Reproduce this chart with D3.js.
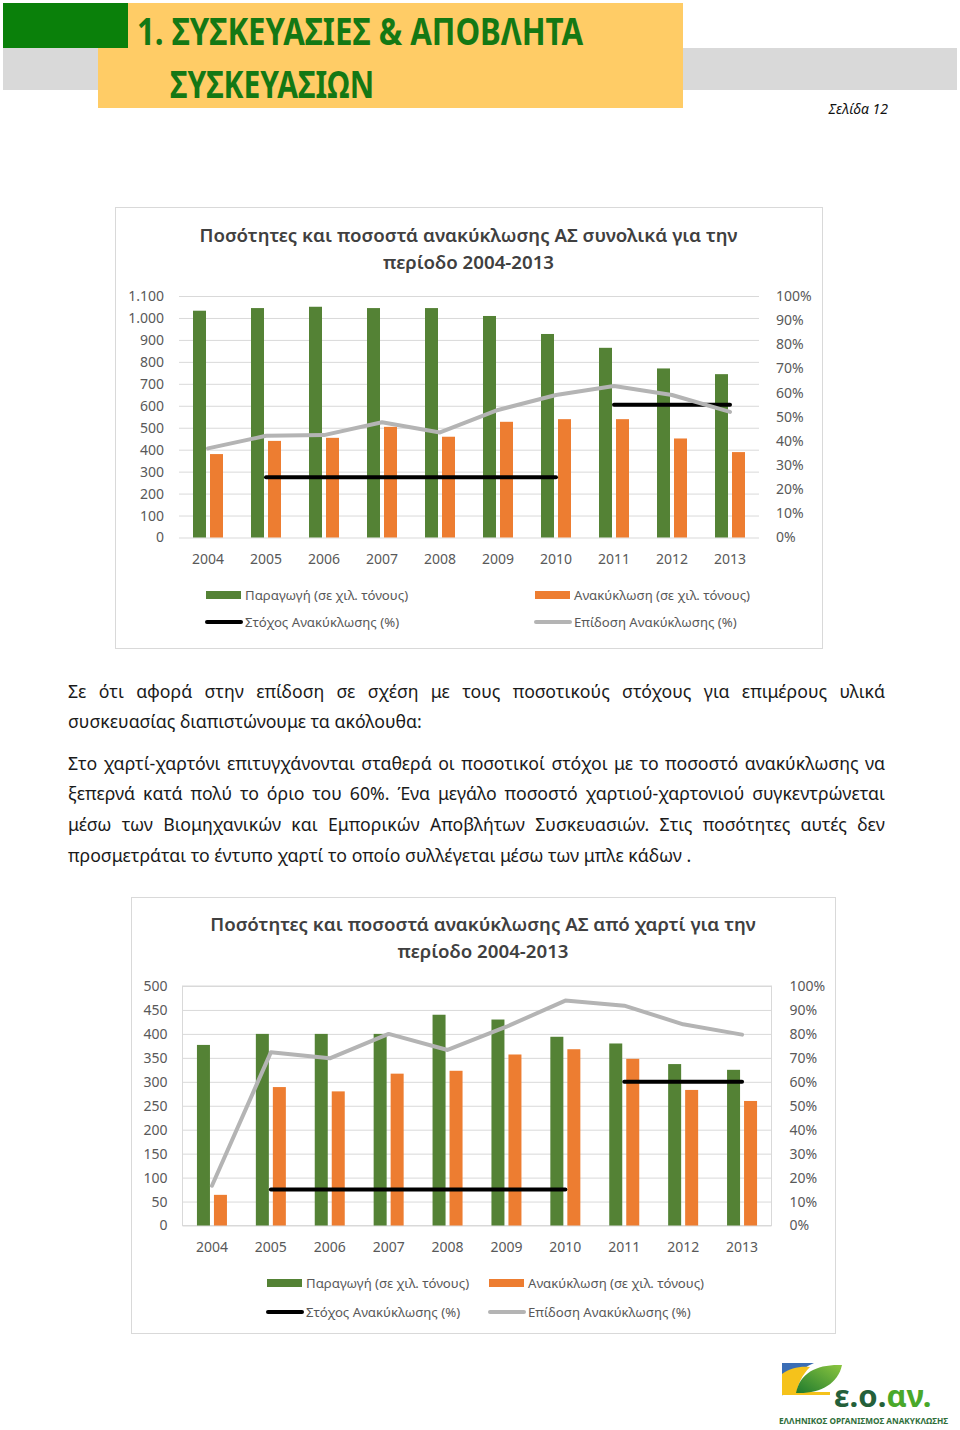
<!DOCTYPE html>
<html lang="el">
<head>
<meta charset="UTF-8">
<title>Συσκευασίες & Απόβλητα Συσκευασιών</title>
<script src="https://cdn.jsdelivr.net/npm/d3@7"></script>
<style>
  body { margin: 0; background: #fff; }
  #page { position: relative; width: 960px; height: 1430px; overflow: hidden; }
  #page svg { position: absolute; left: 0; top: 0; }
  .line { position: absolute; left: 68px; width: 817px; font-family: "Noto Sans", sans-serif;
          font-size: 17.7px; line-height: 22px; color: #1a1a1a; }
  .justify { text-align: justify; text-align-last: justify; }
</style>
</head>
<body>
<div id="page"></div>
<script>
// ---- data ----
var years = ["2004", "2005", "2006", "2007", "2008", "2009", "2010", "2011", "2012", "2013"];

// total packaging (thousand tonnes / %)
var totalProduction = [1033, 1045, 1051, 1045, 1045, 1009, 927, 864, 770, 744];
var totalRecycling = [380, 440, 454, 504, 459, 527, 539, 539, 451, 389];
var totalPerformance = [36.9, 42.1, 42.4, 47.7, 43.5, 52.8, 59.0, 62.7, 59.0, 52.0];
var totalTarget = [null, 25, 25, 25, 25, 25, 25, 55, 55, 55];
var totalTicks = [0, 100, 200, 300, 400, 500, 600, 700, 800, 900, 1000, 1100];

// paper packaging
var paperProduction = [377, 400, 400, 400, 440, 430, 394, 380, 337, 325];
var paperRecycling = [64, 289, 280, 317, 323, 357, 368, 348, 283, 260];
var paperPerformance = [16.6, 72.3, 69.8, 80.0, 73.3, 83.0, 93.9, 91.8, 84.0, 79.7];
var paperTarget = [null, 15, 15, 15, 15, 15, 15, 60, 60, 60];
var paperTicks = [0, 50, 100, 150, 200, 250, 300, 350, 400, 450, 500];

var pctTicks = [0, 10, 20, 30, 40, 50, 60, 70, 80, 90, 100];
var legendLabels = ["Παραγωγή (σε χιλ. τόνους)", "Ανακύκλωση (σε χιλ. τόνους)",
                    "Στόχος Ανακύκλωσης (%)", "Επίδοση Ανακύκλωσης (%)"];

var paragraphLines = [
  ["Σε ότι αφορά στην επίδοση σε σχέση με τους ποσοτικούς στόχους για επιμέρους υλικά", 680, true],
  ["συσκευασίας διαπιστώνουμε τα ακόλουθα:", 710, false],
  ["Στο χαρτί-χαρτόνι επιτυγχάνονται σταθερά οι ποσοτικοί στόχοι με το ποσοστό ανακύκλωσης να", 752, true],
  ["ξεπερνά κατά πολύ το όριο του 60%. Ένα μεγάλο ποσοστό χαρτιού-χαρτονιού συγκεντρώνεται", 782, true],
  ["μέσω των Βιομηχανικών και Εμπορικών Αποβλήτων Συσκευασιών. Στις ποσότητες αυτές δεν", 813, true],
  ["προσμετράται το έντυπο χαρτί το οποίο συλλέγεται μέσω των μπλε κάδων .", 844, false]
];

var GREEN = "#548235", ORANGE = "#ed7d31", GREY = "#b4b4b4", GRID = "#d9d9d9";
var FONT = "'Noto Sans', sans-serif";

var page = d3.select("#page");
var svg = page.append("svg").attr("width", 960).attr("height", 1430);

// ---- page header ----
svg.append("rect").attr("x", 3).attr("y", 48).attr("width", 954).attr("height", 42).attr("fill", "#d9d9d9");
svg.append("rect").attr("x", 98).attr("y", 3).attr("width", 585).attr("height", 105).attr("fill", "#ffcc66");
svg.append("rect").attr("x", 3).attr("y", 3).attr("width", 125).attr("height", 45).attr("fill", "#0a800a");
svg.append("text").attr("x", 137).attr("y", 45)
  .attr("textLength", 446).attr("lengthAdjust", "spacingAndGlyphs")
  .style("font-family", FONT).style("font-weight", "bold").style("font-size", "37px")
  .attr("fill", "#147814").text("1. ΣΥΣΚΕΥΑΣΙΕΣ &  ΑΠΟΒΛΗΤΑ");
svg.append("text").attr("x", 170).attr("y", 98)
  .attr("textLength", 204).attr("lengthAdjust", "spacingAndGlyphs")
  .style("font-family", FONT).style("font-weight", "bold").style("font-size", "37px")
  .attr("fill", "#147814").text("ΣΥΣΚΕΥΑΣΙΩΝ");
svg.append("text").attr("x", 888).attr("y", 114).attr("text-anchor", "end")
  .style("font-family", FONT).style("font-style", "italic").style("font-size", "14px")
  .attr("fill", "#111").text("Σελίδα 12");

// ---- body text ----
paragraphLines.forEach(function (l) {
  page.append("div").attr("class", "line" + (l[2] ? " justify" : ""))
    .style("top", l[1] + "px").text(l[0]);
});

// ---- charts ----
var fmt = d3.formatLocale({ decimal: ",", thousands: ".", grouping: [3], currency: ["", "€"] }).format(",");

function drawChart(o) {
  var g = svg.append("g");
  g.append("rect").attr("x", o.frame[0] + 0.5).attr("y", o.frame[1] + 0.5)
    .attr("width", o.frame[2]).attr("height", o.frame[3])
    .attr("fill", "#fff").attr("stroke", GRID);

  var midX = o.frame[0] + o.frame[2] / 2;
  o.title.forEach(function (t, i) {
    g.append("text").attr("x", midX).attr("y", o.titleY + i * 27).attr("text-anchor", "middle")
      .style("font-family", FONT).style("font-weight", 600).style("font-size", "18.7px")
      .attr("fill", "#404040").text(t);
  });

  var x = d3.scaleBand().domain(years).range([o.left, o.right]);
  var xs = d3.scaleBand().domain(["prod", "rec"]).range([-15, 15]).paddingInner(4 / 17);
  var y = d3.scaleLinear().domain([0, o.yMax]).range([o.bottom, o.top]);
  var y2 = d3.scaleLinear().domain([0, 100]).range([o.bottom, o.top]);
  var cx = function (d) { return x(d) + x.bandwidth() / 2; };

  // left axis + gridlines
  var ax = g.append("g").attr("transform", "translate(" + o.left + ",0)")
    .call(d3.axisLeft(y).tickValues(o.ticks).tickSize(-(o.right - o.left)).tickPadding(o.padL).tickFormat(fmt));
  ax.select(".domain").remove();
  ax.selectAll("line").attr("stroke", GRID);

  if (o.border) {
    g.append("rect").attr("x", o.left).attr("y", o.top)
      .attr("width", o.right - o.left).attr("height", o.bottom - o.top)
      .attr("fill", "none").attr("stroke", GRID);
  }

  var ar = g.append("g").attr("transform", "translate(" + o.right + ",0)")
    .call(d3.axisRight(y2).tickValues(pctTicks).tickSize(0).tickPadding(o.padR).tickFormat(function (d) { return d + "%"; }));
  ar.select(".domain").remove();

  var axb = g.append("g").attr("transform", "translate(0," + o.bottom + ")")
    .call(d3.axisBottom(x).tickSize(0).tickPadding(17));
  axb.select(".domain").remove();

  g.selectAll(".tick text").style("font-family", FONT).style("font-size", "14px").attr("fill", "#595959");

  // bars
  g.selectAll(".bar-prod").data(years).join("rect").attr("class", "bar-prod")
    .attr("x", function (d) { return cx(d) + xs("prod"); }).attr("width", xs.bandwidth())
    .attr("y", function (d, i) { return y(o.prod[i]); })
    .attr("height", function (d, i) { return y(0) - y(o.prod[i]); })
    .attr("fill", GREEN);
  g.selectAll(".bar-rec").data(years).join("rect").attr("class", "bar-rec")
    .attr("x", function (d) { return cx(d) + xs("rec"); }).attr("width", xs.bandwidth())
    .attr("y", function (d, i) { return y(o.rec[i]); })
    .attr("height", function (d, i) { return y(0) - y(o.rec[i]); })
    .attr("fill", ORANGE);

  // target: one segment per run of equal values
  var runs = [], cur = null;
  o.target.forEach(function (v, i) {
    if (v == null) { cur = null; return; }
    if (cur && o.target[i - 1] === v) cur.push(i);
    else { cur = [i]; runs.push(cur); }
  });
  var idxLine = function (arr) {
    return d3.line().x(function (i) { return cx(years[i]); }).y(function (i) { return y2(arr[i]); });
  };
  g.selectAll(".target").data(runs).join("path").attr("class", "target")
    .attr("d", idxLine(o.target)).attr("fill", "none").attr("stroke", "#000")
    .attr("stroke-width", 4).attr("stroke-linecap", "round");

  g.append("path").attr("d", idxLine(o.perf)(d3.range(years.length)))
    .attr("fill", "none").attr("stroke", GREY).attr("stroke-width", 4)
    .attr("stroke-linecap", "round").attr("stroke-linejoin", "round");

  // legend
  var lg = o.legend;
  var items = [
    { c: lg.cols[0], r: lg.rows[0], type: "rect", color: GREEN },
    { c: lg.cols[1], r: lg.rows[0], type: "rect", color: ORANGE },
    { c: lg.cols[0], r: lg.rows[1], type: "line", color: "#000" },
    { c: lg.cols[1], r: lg.rows[1], type: "line", color: GREY }
  ];
  items.forEach(function (it, i) {
    if (it.type === "rect") {
      g.append("rect").attr("x", it.c).attr("y", it.r - 4).attr("width", 35).attr("height", 8).attr("fill", it.color);
    } else {
      g.append("line").attr("x1", it.c + 1).attr("x2", it.c + 35).attr("y1", it.r).attr("y2", it.r)
        .attr("stroke", it.color).attr("stroke-width", 4).attr("stroke-linecap", "round");
    }
    g.append("text").attr("x", it.c + 39).attr("y", it.r).attr("dy", "0.35em")
      .style("font-family", FONT).style("font-size", "13.2px").attr("fill", "#595959")
      .text(legendLabels[i]);
  });
}

drawChart({
  frame: [115, 207, 707, 441],
  title: ["Ποσότητες και ποσοστά ανακύκλωσης ΑΣ συνολικά για την", "περίοδο 2004-2013"],
  titleY: 242,
  left: 179, right: 759, top: 296, bottom: 537.5,
  yMax: 1100, ticks: totalTicks, padL: 15, padR: 17, border: false,
  prod: totalProduction, rec: totalRecycling, perf: totalPerformance, target: totalTarget,
  legend: { cols: [206, 535], rows: [595, 622] }
});

drawChart({
  frame: [131, 897, 704, 436],
  title: ["Ποσότητες και ποσοστά ανακύκλωσης ΑΣ από χαρτί για την", "περίοδο 2004-2013"],
  titleY: 931,
  left: 182.5, right: 771.5, top: 986, bottom: 1225.5,
  yMax: 500, ticks: paperTicks, padL: 15, padR: 18, border: true,
  prod: paperProduction, rec: paperRecycling, perf: paperPerformance, target: paperTarget,
  legend: { cols: [267, 489], rows: [1283, 1312] }
});

// ---- logo ----
var logo = svg.append("g");
var grad = svg.append("defs").append("linearGradient").attr("id", "leaf")
  .attr("x1", "0").attr("y1", "1").attr("x2", "1").attr("y2", "0");
grad.append("stop").attr("offset", "0").attr("stop-color", "#1f7a2e");
grad.append("stop").attr("offset", "1").attr("stop-color", "#8cc63f");
logo.append("path").attr("d", "M782,1363 L814,1363 C798,1370 788,1382 782,1396 Z").attr("fill", "#3a6db5");
logo.append("path").attr("d", "M782,1374 C790,1368 800,1366 810,1367 C802,1375 798,1384 797,1392 L830,1392 L830,1395 L782,1395 Z").attr("fill", "#f5c21b");
logo.append("path").attr("d", "M796,1393 C800,1372 818,1364 842,1365 C838,1384 820,1394 796,1393 Z").attr("fill", "url(#leaf)");
var lt = logo.append("text").attr("x", 834).attr("y", 1407)
  .style("font-family", FONT).style("font-weight", "bold").style("font-size", "31px");
lt.append("tspan").attr("fill", "#24603a").text("ε.ο.");
lt.append("tspan").attr("fill", "#4aa82a").text("αν.");
logo.append("text").attr("x", 779).attr("y", 1424).attr("textLength", 169).attr("lengthAdjust", "spacingAndGlyphs")
  .style("font-family", FONT).style("font-weight", "bold").style("font-size", "8.5px")
  .attr("fill", "#2f6e3a").text("ΕΛΛΗΝΙΚΟΣ ΟΡΓΑΝΙΣΜΟΣ ΑΝΑΚΥΚΛΩΣΗΣ");
</script>
</body>
</html>
